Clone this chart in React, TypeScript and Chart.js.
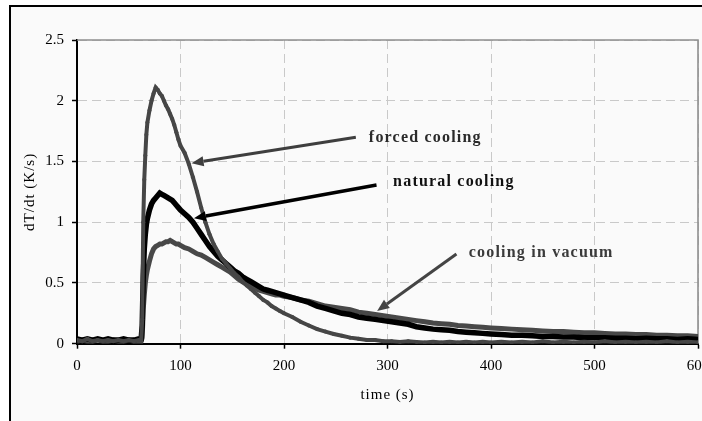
import React, { useEffect, useRef } from 'react';
import { Chart, registerables } from 'chart.js';

Chart.register(...registerables);

// time (s)
const times = [
  0, 5, 10, 15, 20, 25, 30, 35, 40, 45, 50, 55, 60,
  62, 63, 64, 65, 66, 67, 68,
  70, 72, 74, 76, 78, 80, 82, 84, 86, 88, 90, 92, 94, 96, 98, 100,
  104, 108, 112, 116, 120, 124, 128, 132, 136, 140, 144, 148, 152, 156, 160, 164, 168, 172, 176, 180, 184, 188, 192, 196, 200,
  208, 216, 224, 232, 240, 248, 256, 264, 272, 280, 288, 296, 304, 312, 320, 328, 336, 344, 352, 360, 368, 376, 384, 392, 400,
  410, 420, 430, 440, 450, 460, 470, 480, 490, 500, 510, 520, 530, 540, 550, 560, 570, 580, 590, 600,
];

// dT/dt (K/s)
const forcedCooling = [
  0.03, 0.02, 0.04, 0.02, 0.03, 0.02, 0.03, 0.02, 0.03, 0.02, 0.03, 0.02, 0.03,
  0.03, 0.2, 1.0, 1.35, 1.55, 1.72, 1.82,
  1.92, 2.0, 2.06, 2.11, 2.09, 2.06, 2.04, 2.0, 1.96, 1.93, 1.89, 1.85, 1.8, 1.74, 1.68, 1.63,
  1.57, 1.48, 1.37, 1.25, 1.12, 1.0, 0.9, 0.82, 0.76, 0.7, 0.66, 0.62, 0.58, 0.55, 0.51, 0.48, 0.45, 0.42, 0.39, 0.36, 0.34, 0.31, 0.29, 0.27, 0.25,
  0.22, 0.18, 0.15, 0.12, 0.1, 0.08, 0.065, 0.05, 0.04, 0.03, 0.03, 0.02, 0.02, 0.015, 0.02, 0.015, 0.01, 0.015, 0.01, 0.015, 0.01, 0.015, 0.01, 0.015, 0.01,
  0.015, 0.01, 0.015, 0.01, 0.02, 0.01, 0.015, 0.01, 0.015, 0.01, 0.02, 0.01, 0.015, 0.01, 0.015, 0.01, 0.02, 0.01, 0.015, 0.01,
];

const naturalCooling = [
  0.04, 0.03, 0.04, 0.03, 0.04, 0.03, 0.04, 0.03, 0.03, 0.04, 0.03, 0.03, 0.04,
  0.04, 0.15, 0.55, 0.78, 0.9, 0.98, 1.03,
  1.1, 1.15, 1.18, 1.2, 1.22, 1.24, 1.23, 1.22, 1.21, 1.2, 1.19, 1.18, 1.16, 1.14, 1.12, 1.1,
  1.07, 1.04, 1.0, 0.95, 0.9, 0.85, 0.8, 0.76, 0.72, 0.69, 0.66, 0.63, 0.6, 0.58, 0.55, 0.53, 0.51, 0.49, 0.47, 0.45, 0.44, 0.43, 0.42, 0.41, 0.4,
  0.38, 0.36, 0.34, 0.31, 0.29, 0.27, 0.25, 0.24, 0.22, 0.21, 0.2, 0.19, 0.18, 0.17, 0.16, 0.14, 0.13, 0.12, 0.115, 0.11, 0.1, 0.095, 0.09, 0.085, 0.08,
  0.075, 0.07, 0.07, 0.065, 0.06, 0.06, 0.055, 0.055, 0.05, 0.05, 0.05, 0.045, 0.045, 0.04, 0.045, 0.04, 0.04, 0.035, 0.04, 0.035,
];

const vacuumCooling = [
  0.02, 0.03, 0.02, 0.02, 0.03, 0.02, 0.02, 0.03, 0.02, 0.02, 0.03, 0.02, 0.02,
  0.02, 0.05, 0.28, 0.4, 0.5, 0.56, 0.61,
  0.68, 0.74, 0.78, 0.8, 0.81, 0.82, 0.82, 0.83, 0.84, 0.84, 0.85, 0.84, 0.83, 0.82, 0.82, 0.81,
  0.79, 0.78, 0.76, 0.74, 0.73, 0.71, 0.69, 0.67, 0.65, 0.63, 0.61, 0.59, 0.56, 0.53, 0.51, 0.49, 0.47, 0.46, 0.44, 0.43, 0.42, 0.41, 0.4, 0.4, 0.39,
  0.38, 0.36, 0.35, 0.33, 0.31, 0.3, 0.29, 0.28, 0.26, 0.25, 0.24, 0.23, 0.22, 0.21, 0.2, 0.19, 0.18, 0.17, 0.165, 0.16, 0.15, 0.145, 0.14, 0.135, 0.13,
  0.125, 0.12, 0.115, 0.11, 0.105, 0.1, 0.1, 0.095, 0.09, 0.09, 0.085, 0.08, 0.08, 0.075, 0.075, 0.07, 0.07, 0.065, 0.065, 0.06,
];

const seriesLabels = ['forced cooling', 'natural cooling', 'cooling in vacuum'];
const xTitle = 'time (s)';
const yTitle = 'dT/dt (K/s)';

// annotation anchors in data units: [text x, text baseline y], arrow tail, arrow tip
const annotationAnchors = [
  { text: seriesLabels[0], at: [282, 1.664], tail: [269.4, 1.70], tip: [110.7, 1.486] },
  { text: seriesLabels[1], at: [305.4, 1.301], tail: [289.4, 1.307], tip: [113, 1.033] },
  { text: seriesLabels[2], at: [378.5, 0.712], tail: [366.6, 0.738], tip: [290, 0.27] },
];
const annotationStyles = [
  { line: '#3e3e3e', text: '#2a2a2a', width: 3 },
  { line: '#000000', text: '#111111', width: 3.5 },
  { line: '#444444', text: '#3a3a3a', width: 3 },
];

const SERIF = '"Liberation Serif", "Times New Roman", serif';

function drawArrow(ctx: CanvasRenderingContext2D, x1: number, y1: number, x2: number, y2: number, w: number, color: string) {
  const ang = Math.atan2(y2 - y1, x2 - x1);
  const head = 12;
  const hw = 5;
  const bx = x2 - head * Math.cos(ang);
  const by = y2 - head * Math.sin(ang);
  ctx.save();
  ctx.strokeStyle = color;
  ctx.fillStyle = color;
  ctx.lineWidth = w;
  ctx.lineCap = 'butt';
  ctx.beginPath();
  ctx.moveTo(x1, y1);
  ctx.lineTo(bx, by);
  ctx.stroke();
  ctx.beginPath();
  ctx.moveTo(x2, y2);
  ctx.lineTo(bx + hw * Math.sin(ang), by - hw * Math.cos(ang));
  ctx.lineTo(bx - hw * Math.sin(ang), by + hw * Math.cos(ang));
  ctx.closePath();
  ctx.fill();
  ctx.restore();
}

const decorPlugin = {
  id: 'decor',
  beforeDatasetsDraw(chart: any) {
    const { ctx, chartArea } = chart;
    ctx.save();
    ctx.strokeStyle = '#8f8f8f';
    ctx.lineWidth = 1.6;
    ctx.beginPath();
    ctx.moveTo(chartArea.left, chartArea.top);
    ctx.lineTo(chartArea.right, chartArea.top);
    ctx.lineTo(chartArea.right, chartArea.bottom);
    ctx.stroke();
    ctx.restore();
  },
  afterDatasetsDraw(chart: any) {
    const { ctx, chartArea } = chart;
    const xs = chart.scales.x;
    const ys = chart.scales.y;
    annotationAnchors.forEach((a, i) => {
      const st = annotationStyles[i];
      drawArrow(
        ctx,
        xs.getPixelForValue(a.tail[0]), ys.getPixelForValue(a.tail[1]),
        xs.getPixelForValue(a.tip[0]), ys.getPixelForValue(a.tip[1]),
        st.width, st.line,
      );
      ctx.save();
      ctx.font = `bold 16px ${SERIF}`;
      (ctx as any).letterSpacing = '1.2px';
      ctx.fillStyle = st.text;
      ctx.textAlign = 'left';
      ctx.textBaseline = 'alphabetic';
      ctx.fillText(a.text, xs.getPixelForValue(a.at[0]), ys.getPixelForValue(a.at[1]));
      ctx.restore();
    });
    // axis titles
    ctx.save();
    ctx.font = `15px ${SERIF}`;
    (ctx as any).letterSpacing = '1px';
    ctx.fillStyle = '#000';
    ctx.textAlign = 'center';
    ctx.textBaseline = 'alphabetic';
    ctx.fillText(xTitle, (chartArea.left + chartArea.right) / 2, chartArea.bottom + 55.5);
    ctx.translate(19, (chartArea.top + chartArea.bottom) / 2);
    ctx.rotate(-Math.PI / 2);
    ctx.textBaseline = 'middle';
    ctx.fillText(yTitle, 0, 0);
    ctx.restore();
  },
};

export default function App() {
  const ref = useRef<HTMLCanvasElement | null>(null);

  useEffect(() => {
    const canvas = ref.current;
    if (!canvas) return;
    const W = 740;
    const H = 440;
    const mk = (vals: number[]) => times.map((t, i) => ({ x: t, y: vals[i] }));
    const chart = new Chart(canvas, {
      type: 'line',
      data: {
        datasets: [
          {
            label: seriesLabels[0],
            data: mk(forcedCooling),
            borderColor: '#464646',
            backgroundColor: '#464646',
            borderWidth: 4,
            pointRadius: 2,
            pointBorderWidth: 0,
            tension: 0,
          },
          {
            label: seriesLabels[1],
            data: mk(naturalCooling),
            borderColor: '#000000',
            backgroundColor: '#000000',
            borderWidth: 5.5,
            pointRadius: 0,
            tension: 0,
          },
          {
            label: seriesLabels[2],
            data: mk(vacuumCooling),
            borderColor: '#484848',
            backgroundColor: '#484848',
            borderWidth: 5,
            pointRadius: 0,
            tension: 0,
          },
        ],
      },
      options: {
        animation: false,
        responsive: false,
        devicePixelRatio: 1,
        layout: { padding: { top: 33, right: W - 687, left: 0, bottom: 0 } },
        plugins: { legend: { display: false }, tooltip: { enabled: false } },
        scales: {
          x: {
            type: 'linear',
            min: 0,
            max: 600,
            afterFit: (s: any) => { s.height = H - 336.7; },
            ticks: {
              stepSize: 100,
              padding: 8,
              color: '#000',
              font: { family: SERIF, size: 15 },
              maxRotation: 0,
              callback: (v: any) => String(v),
            },
            grid: {
              color: '#c9c9c9',
              lineWidth: 1,
              tickColor: '#000',
              tickLength: 5,
              tickWidth: 1.5,
              tickBorderDash: [],
            },
            border: { color: '#000', width: 2, dash: [9, 5] },
          },
          y: {
            type: 'linear',
            min: 0,
            max: 2.5,
            afterFit: (s: any) => { s.width = 66; },
            ticks: {
              stepSize: 0.5,
              padding: 8,
              color: '#000',
              font: { family: SERIF, size: 15 },
              callback: (v: any) => String(v),
            },
            grid: {
              color: '#c9c9c9',
              lineWidth: 1,
              tickColor: '#000',
              tickLength: 5,
              tickWidth: 1.5,
              tickBorderDash: [],
            },
            border: { color: '#000', width: 2, dash: [9, 5] },
          },
        },
      },
      plugins: [decorPlugin],
    } as any);
    return () => chart.destroy();
  }, []);

  return (
    <div style={{ position: 'fixed', inset: 0, overflow: 'hidden', background: '#ffffff' }}>
      <div
        style={{
          position: 'absolute',
          left: 9,
          top: 5,
          border: '2px solid #000',
          background: '#fafafa',
          width: 740,
          height: 440,
        }}
      >
        <canvas ref={ref} width={740} height={440} style={{ display: 'block', width: 740, height: 440 }} />
      </div>
    </div>
  );
}
